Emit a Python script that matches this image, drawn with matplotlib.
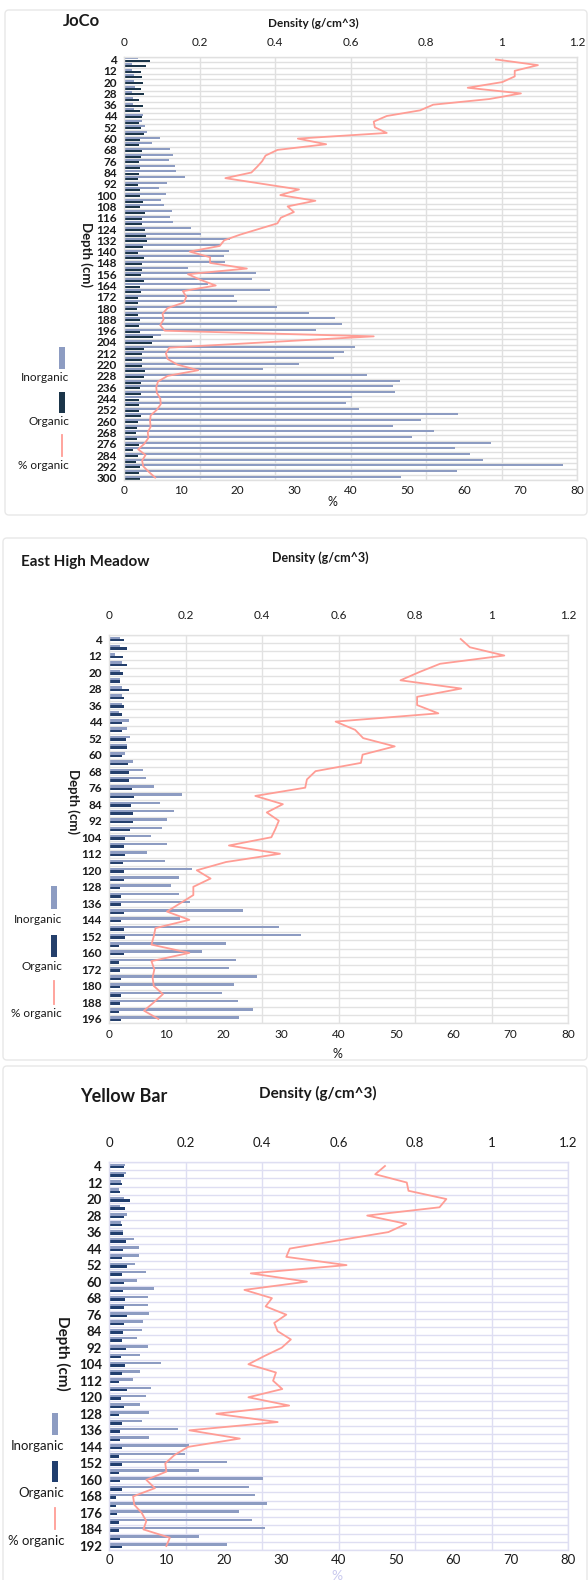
import numpy as np
import matplotlib
matplotlib.use("Agg")
import matplotlib.pyplot as plt
from matplotlib.patches import Rectangle, FancyBboxPatch

plt.rcParams['font.family'] = ['Lato', 'DejaVu Sans']

W, H = 588, 1580

# ---- JoCo ----
jo_depth = [4, 8, 12, 16, 20, 24, 28, 32, 36, 40, 44, 48, 52, 56, 60, 64, 68, 72, 76, 80,
            84, 88, 92, 96, 100, 104, 108, 112, 116, 120, 124, 128, 132, 136, 140, 144, 148, 152, 156, 160,
            164, 168, 172, 176, 180, 184, 188, 192, 196, 200, 204, 208, 212, 216, 220, 224, 228, 232, 236, 240,
            244, 248, 252, 256, 260, 264, 268, 272, 276, 280, 284, 288, 292, 296, 300]
jo_inorg = [0.036, 0.022, 0.022, 0.027, 0.027, 0.030, 0.022, 0.024, 0.024, 0.027,
            0.051, 0.049, 0.056, 0.061, 0.095, 0.073, 0.123, 0.130, 0.120, 0.135,
            0.138, 0.162, 0.113, 0.093, 0.111, 0.098, 0.105, 0.126, 0.123, 0.130,
            0.177, 0.205, 0.281, 0.253, 0.278, 0.264, 0.268, 0.170, 0.350, 0.339,
            0.222, 0.386, 0.291, 0.300, 0.404, 0.491, 0.560, 0.577, 0.508, 0.098,
            0.181, 0.611, 0.584, 0.556, 0.463, 0.367, 0.643, 0.732, 0.712, 0.717,
            0.603, 0.589, 0.623, 0.884, 0.788, 0.712, 0.820, 0.763, 0.973, 0.878,
            0.917, 0.950, 1.162, 0.881, 0.734]
jo_org = [0.069, 0.057, 0.045, 0.049, 0.051, 0.044, 0.052, 0.041, 0.051, 0.042,
          0.047, 0.039, 0.045, 0.053, 0.043, 0.041, 0.047, 0.044, 0.041, 0.043,
          0.041, 0.036, 0.036, 0.043, 0.043, 0.051, 0.043, 0.055, 0.049, 0.049,
          0.056, 0.059, 0.061, 0.051, 0.038, 0.053, 0.049, 0.049, 0.046, 0.053,
          0.043, 0.045, 0.036, 0.036, 0.035, 0.036, 0.042, 0.041, 0.042, 0.076,
          0.073, 0.054, 0.048, 0.049, 0.049, 0.056, 0.054, 0.046, 0.043, 0.044,
          0.041, 0.041, 0.039, 0.044, 0.038, 0.035, 0.033, 0.034, 0.039, 0.023,
          0.037, 0.031, 0.043, 0.041, 0.043]
jo_pct = [65.7, 73.1, 69.0, 69.0, 66.8, 60.7, 70.1, 64.5, 54.6, 52.3,
          46.4, 44.1, 44.3, 46.4, 30.7, 35.7, 27.1, 25.0, 24.4, 23.5,
          22.5, 17.9, 24.4, 30.9, 27.6, 33.8, 28.9, 30.0, 27.7, 27.1,
          23.8, 20.5, 17.7, 16.9, 11.6, 15.2, 15.2, 21.7, 11.3, 13.5,
          16.2, 10.4, 11.0, 10.6, 7.7, 6.8, 7.0, 6.4, 7.2, 44.1,
          26.0, 8.0, 7.4, 7.7, 9.4, 13.1, 7.7, 6.0, 5.7, 5.8,
          6.4, 6.5, 5.8, 4.7, 4.6, 4.7, 4.2, 4.3, 3.6, 2.5,
          3.8, 3.2, 3.4, 4.4, 5.5]

# ---- East High Meadow ----
ehm_depth = [4, 8, 12, 16, 20, 24, 28, 32, 36, 40, 44, 48, 52, 56, 60, 64, 68, 72, 76, 80,
             84, 88, 92, 96, 104, 108, 112, 116, 120, 124, 128, 132, 136, 140, 144, 148, 152, 156, 160, 164,
             172, 176, 180, 184, 188, 192, 196]
ehm_inorg = [0.028, 0.028, 0.016, 0.033, 0.030, 0.030, 0.033, 0.033, 0.034, 0.025,
             0.052, 0.047, 0.056, 0.047, 0.042, 0.064, 0.090, 0.096, 0.118, 0.192,
             0.133, 0.170, 0.152, 0.138, 0.110, 0.151, 0.099, 0.146, 0.216, 0.182,
             0.163, 0.182, 0.213, 0.350, 0.185, 0.444, 0.503, 0.306, 0.242, 0.333,
             0.313, 0.387, 0.328, 0.296, 0.338, 0.377, 0.340]
ehm_org = [0.040, 0.047, 0.037, 0.047, 0.037, 0.030, 0.052, 0.039, 0.039, 0.033,
           0.034, 0.035, 0.044, 0.047, 0.034, 0.049, 0.051, 0.051, 0.061, 0.065,
           0.058, 0.064, 0.064, 0.055, 0.043, 0.040, 0.042, 0.037, 0.039, 0.039,
           0.028, 0.031, 0.031, 0.039, 0.031, 0.039, 0.042, 0.025, 0.039, 0.027,
           0.028, 0.031, 0.028, 0.031, 0.029, 0.025, 0.031]
ehm_pct = [61.3, 62.9, 68.9, 57.7, 54.1, 50.8, 61.4, 53.7, 53.7, 57.4,
           39.5, 42.9, 44.3, 49.8, 44.2, 43.9, 36.0, 34.5, 34.2, 25.5,
           30.3, 27.5, 29.6, 29.0, 28.3, 20.9, 29.8, 20.4, 15.3, 17.7,
           14.7, 14.7, 12.4, 10.1, 14.0, 8.1, 7.8, 7.4, 14.0, 7.4,
           7.9, 7.6, 7.8, 9.4, 7.8, 6.1, 8.6]

# ---- Yellow Bar ----
yb_depth = [4, 8, 12, 16, 20, 24, 28, 32, 36, 40, 44, 48, 52, 56, 60, 64, 68, 72, 76, 80,
            84, 88, 92, 96, 104, 108, 112, 116, 120, 124, 128, 132, 136, 140, 144, 148, 152, 156, 160, 164,
            168, 172, 176, 180, 184, 188, 192]
yb_inorg = [0.041, 0.044, 0.031, 0.026, 0.039, 0.029, 0.046, 0.031, 0.037, 0.066,
            0.078, 0.078, 0.068, 0.097, 0.072, 0.117, 0.101, 0.103, 0.105, 0.090,
            0.085, 0.073, 0.102, 0.082, 0.135, 0.081, 0.063, 0.110, 0.097, 0.081,
            0.105, 0.085, 0.180, 0.104, 0.209, 0.198, 0.308, 0.236, 0.403, 0.367,
            0.382, 0.414, 0.341, 0.373, 0.408, 0.234, 0.309]
yb_org = [0.039, 0.038, 0.033, 0.029, 0.056, 0.041, 0.038, 0.034, 0.037, 0.044,
          0.037, 0.035, 0.048, 0.033, 0.039, 0.037, 0.041, 0.040, 0.047, 0.038,
          0.036, 0.035, 0.044, 0.031, 0.043, 0.034, 0.027, 0.048, 0.031, 0.038,
          0.025, 0.034, 0.030, 0.030, 0.033, 0.025, 0.033, 0.026, 0.028, 0.033,
          0.017, 0.018, 0.022, 0.027, 0.027, 0.029, 0.034]
yb_pct = [48.1, 46.4, 51.9, 52.2, 58.8, 57.6, 45.0, 51.8, 48.7, 40.0,
          31.5, 30.9, 41.4, 24.7, 34.5, 23.6, 28.4, 27.3, 30.9, 28.8,
          29.4, 31.7, 30.1, 27.1, 24.3, 29.1, 28.6, 30.2, 24.3, 31.4,
          18.7, 29.4, 14.0, 22.8, 13.8, 11.4, 9.8, 10.0, 6.5, 8.0,
          4.2, 4.4, 5.7, 6.5, 6.0, 10.6, 10.0]

density_ticks = [0, 0.2, 0.4, 0.6, 0.8, 1.0, 1.2]
density_labels = ['0', '0.2', '0.4', '0.6', '0.8', '1', '1.2']
pct_ticks = [0, 10, 20, 30, 40, 50, 60, 70, 80]

LIGHT = '#8d9cc2'
LINE = '#ff9d95'
TXT = '#1a1a1a'

fig = plt.figure(figsize=(W / 100, H / 100), dpi=100)
lay = fig.add_axes([0, 0, 1, 1])
lay.set_xlim(0, W)
lay.set_ylim(H, 0)
lay.axis('off')


def fx(x):
    return x / W


def fy(y):
    return 1 - y / H


def panel(depth, inorg, org, pct, x0, x1, y_first, step, dark, grid, bar_h,
          fs, top_pad, bot_pad, box, title, title_xy, title_fs, dens_xy, dens_fs,
          depth_xy, depth_fs, pct_xy, pct_color, leg):
    n = len(depth)
    top = y_first - step / 2
    bot = y_first + (n - 0.5) * step
    ax = fig.add_axes([fx(x0), fy(bot), (x1 - x0) / W, (bot - top) / H])
    y = np.arange(n)
    ax.barh(y - bar_h / 2, inorg, height=bar_h, color=LIGHT, zorder=2)
    ax.barh(y + bar_h / 2, org, height=bar_h, color=dark, zorder=2)
    ax.set_xlim(0, 1.2)
    ax.set_ylim(n - 0.5, -0.5)
    ax.set_yticks(y[::2])
    ax.set_yticklabels([str(d) for d in depth[::2]], fontsize=fs,
                       fontweight='bold', color=TXT)
    ax.set_yticks(np.arange(n + 1) - 0.5, minor=True)
    ax.tick_params(axis='y', which='both', length=0, pad=5)
    ax.set_axisbelow(True)
    ax.grid(axis='x', which='major', color=grid, lw=1.0)
    ax.grid(axis='y', which='minor', color=grid, lw=1.0)
    for s in ax.spines.values():
        s.set_color(grid)
        s.set_linewidth(1.0)

    # % organic line on the bottom axis
    ax2 = ax.twiny()
    ax2.plot(pct, y, color=LINE, lw=1.3, zorder=3)
    ax2.set_xlim(0, 80)
    ax2.set_xticks(pct_ticks)
    ax2.set_xticklabels([str(t) for t in pct_ticks], fontsize=fs, color=TXT)
    ax2.tick_params(axis='x', length=0, pad=bot_pad,
                    top=False, labeltop=False, bottom=True, labelbottom=True)
    for s in ax2.spines.values():
        s.set_visible(False)

    # density ticks on top (twiny moved them, so set again)
    ax.set_xticks(density_ticks)
    ax.set_xticklabels(density_labels, fontsize=fs, color=TXT)
    ax.tick_params(axis='x', which='both', length=0, pad=top_pad,
                   top=True, labeltop=True, bottom=False, labelbottom=False)

    # panel frame and texts
    lay.add_patch(FancyBboxPatch((box[0], box[1]), box[2] - box[0], box[3] - box[1],
                                 boxstyle='round,pad=0,rounding_size=4',
                                 fc='none', ec='#e8e8e8', lw=1.0))
    fig.text(fx(title_xy[0]), fy(title_xy[1]), title, fontsize=title_fs,
             fontweight='bold', color=TXT, va='center', ha='left')
    fig.text(fx(dens_xy[0]), fy(dens_xy[1]), 'Density (g/cm^3)', fontsize=dens_fs,
             fontweight='bold', color=TXT, va='center', ha='center')
    fig.text(fx(depth_xy[0]), fy(depth_xy[1]), 'Depth (cm)', fontsize=depth_fs,
             fontweight='bold', color=TXT, va='center', ha='center', rotation=270)
    fig.text(fx(pct_xy[0]), fy(pct_xy[1]), '%', fontsize=fs + 0.5,
             color=pct_color, va='center', ha='center')

    # legend (swatch above its label)
    sx, tx = leg['sx'], leg['tx']
    yy = lambda i: y_first + i * step
    lay.add_patch(Rectangle((sx - 2.8, yy(leg['light'][0])), 5.6,
                            yy(leg['light'][1]) - yy(leg['light'][0]), color=LIGHT, lw=0))
    lay.add_patch(Rectangle((sx - 2.8, yy(leg['dark'][0])), 5.6,
                            yy(leg['dark'][1]) - yy(leg['dark'][0]), color=dark, lw=0))
    lay.plot([sx, sx], [yy(leg['line'][0]), yy(leg['line'][1])], color=LINE, lw=1.3)
    for name, i in (('Inorganic', leg['t'][0]), ('Organic', leg['t'][1]), ('% organic', leg['t'][2])):
        lay.text(tx, yy(i), name, fontsize=fs, color=TXT, ha='right', va='center')
    return ax


panel(jo_depth, jo_inorg, jo_org, jo_pct, 124, 577, 59.5, 5.65, '#1b3549', '#e0e0e0', 0.36,
      8.5, 6, 3, (5, 10, 587, 515), 'JoCo', (63, 21), 12, (313, 23), 8.5,
      (86, 254), 9.5, (332, 502), TXT,
      dict(sx=62, tx=69, light=(50.9, 54.8), dark=(58.8, 62.5), line=(66.5, 70.2),
           t=(56.3, 64.0, 71.8)))

panel(ehm_depth, ehm_inorg, ehm_org, ehm_pct, 109, 568, 639, 8.26, '#243f6b', '#e2e2e2', 0.3,
      8.5, 10, 4, (3, 538, 587, 1060), 'East High Meadow', (21, 562), 11, (320, 558), 9,
      (73, 801), 9.5, (337, 1054), TXT,
      dict(sx=54, tx=62, light=(29.9, 32.7), dark=(35.8, 38.5), line=(41.4, 44.2),
           t=(33.9, 39.6, 45.3)))

panel(yb_depth, yb_inorg, yb_org, yb_pct, 109, 568, 1166, 8.26, '#203e6e', '#dedef2', 0.3,
      9.5, 9, 3, (3, 1066, 587, 1590), 'Yellow Bar', (80, 1096), 13, (318, 1093), 11,
      (63, 1353), 11, (337, 1576), '#c9c9ee',
      dict(sx=55, tx=64, light=(29.9, 32.6), dark=(35.7, 38.3), line=(41.4, 44.0),
           t=(33.9, 39.6, 45.4)))

fig.savefig('out.png', dpi=100)
